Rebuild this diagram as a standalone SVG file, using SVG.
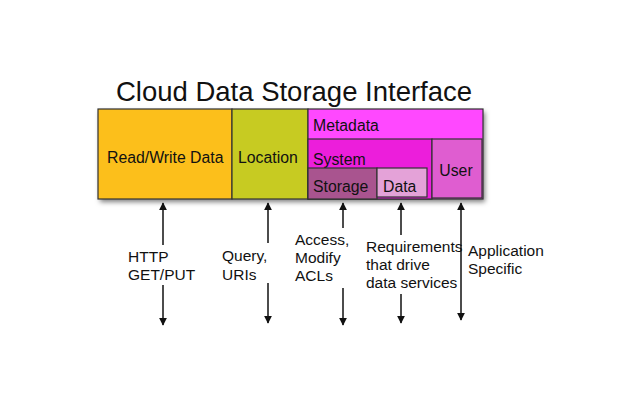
<svg xmlns="http://www.w3.org/2000/svg" width="640" height="400" viewBox="0 0 640 400">
<defs>
<marker id="ah" viewBox="0 0 10 10" refX="9" refY="5" markerWidth="8" markerHeight="9" markerUnits="userSpaceOnUse" orient="auto-start-reverse"><path d="M0,0 L10,5 L0,10 z" fill="#111"/></marker>
<filter id="sh" x="-5%" y="-10%" width="115%" height="130%"><feDropShadow dx="2" dy="3" stdDeviation="2.5" flood-color="#000" flood-opacity="0.5"/></filter>
</defs>
<style>
text{font-family:"Liberation Sans",Arial,sans-serif;fill:#111}
.box{stroke:#333;stroke-width:1.2}
.lbl{font-size:15.8px}
.ann{font-size:15.5px}
.c{stroke:#111;stroke-width:1.5;fill:none}
</style>
<rect width="640" height="400" fill="#fff"/>
<text x="294" y="101" font-size="27.5" text-anchor="middle">Cloud Data Storage Interface</text>
<g id="interface" filter="url(#sh)">
<rect x="98" y="109" width="385" height="90" fill="#333"/>
</g>
<g id="readwrite"><rect class="box" x="98" y="109" width="134" height="90" fill="#fcbf1b"/><text class="lbl" x="107" y="163">Read/Write Data</text></g>
<g id="location"><rect class="box" x="232" y="109" width="76" height="90" fill="#c7cb22"/><text class="lbl" x="238" y="163">Location</text></g>
<g id="metadata"><rect class="box" x="308" y="109" width="175" height="90" fill="#ff48ff"/><text class="lbl" x="313" y="131" fill="#3a0a3a">Metadata</text></g>
<g id="system"><rect class="box" x="308" y="139" width="124" height="60" fill="#ec1edb"/><text class="lbl" x="313" y="165" fill="#3a0a3a">System</text></g>
<g id="user"><rect class="box" x="432" y="139" width="50" height="59" fill="#df5dd0"/><text class="lbl" x="456" y="176" text-anchor="middle" fill="#3a0a3a">User</text></g>
<g id="storage"><rect class="box" x="308" y="168" width="69" height="31" fill="#a9548f"/><text class="lbl" x="313" y="192" fill="#2a0a2a">Storage</text></g>
<g id="data"><rect class="box" x="377" y="168" width="50" height="29" fill="#e4a2d8"/><text class="lbl" x="383" y="192" fill="#2a0a2a">Data</text></g>
<g id="connectors">
<line class="c" x1="163" y1="245" x2="163" y2="203" marker-end="url(#ah)"/>
<line class="c" x1="163" y1="285" x2="163" y2="325" marker-end="url(#ah)"/>
<line class="c" x1="268" y1="243" x2="268" y2="203" marker-end="url(#ah)"/>
<line class="c" x1="268" y1="283" x2="268" y2="323" marker-end="url(#ah)"/>
<line class="c" x1="343" y1="228" x2="343" y2="203" marker-end="url(#ah)"/>
<line class="c" x1="343" y1="288" x2="343" y2="325" marker-end="url(#ah)"/>
<line class="c" x1="401" y1="235" x2="401" y2="203" marker-end="url(#ah)"/>
<line class="c" x1="401" y1="294" x2="401" y2="323" marker-end="url(#ah)"/>
<line class="c" x1="461" y1="203" x2="461" y2="320" marker-start="url(#ah)" marker-end="url(#ah)"/>
</g>
<g id="labels">
<text class="ann" x="128" y="262">HTTP</text><text class="ann" x="128" y="280">GET/PUT</text>
<text class="ann" x="222" y="261">Query,</text><text class="ann" x="222" y="280">URIs</text>
<text class="ann" x="295" y="245">Access,</text><text class="ann" x="295" y="263">Modify</text><text class="ann" x="295" y="281">ACLs</text>
<text class="ann" x="366" y="252">Requirements</text><text class="ann" x="366" y="270">that drive</text><text class="ann" x="366" y="288">data services</text>
<text class="ann" x="468" y="256">Application</text><text class="ann" x="468" y="274">Specific</text>
</g>
</svg>
